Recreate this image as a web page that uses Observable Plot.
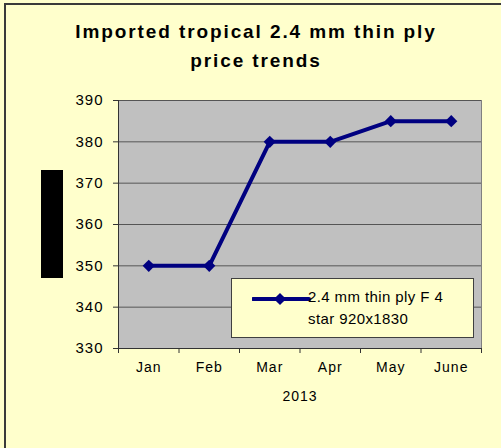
<!DOCTYPE html>
<html><head><meta charset="utf-8">
<script src="https://cdn.jsdelivr.net/npm/d3@7"></script>
<script src="https://cdn.jsdelivr.net/npm/@observablehq/plot@0.6"></script>
<style>
html,body{margin:0;padding:0;background:#FFFFCC;}
#wrap{position:relative;width:501px;height:448px;overflow:hidden;font-family:"Liberation Sans",Arial,sans-serif;}
#frame{position:absolute;left:4px;top:3px;width:600px;height:600px;border-left:2px solid #3a3a3a;border-top:2px solid #3a3a3a;}
#title{position:absolute;left:0;width:512px;top:17px;text-align:center;font-weight:bold;font-size:19px;line-height:29px;letter-spacing:1.9px;color:#000;}
#redact{position:absolute;left:41px;top:170px;width:22px;height:108px;background:#000;}
#chart{position:absolute;left:0;top:0;}
#legend{position:absolute;left:231px;top:278px;width:243px;height:60px;box-sizing:border-box;background:#FFFFCC;border:1px solid #404040;}
#legend svg{position:absolute;left:20px;top:13px;}
#legtext{position:absolute;left:76px;top:7px;width:158px;font-size:15px;line-height:22px;letter-spacing:0.4px;color:#000;}
</style></head>
<body>
<div id="wrap">
  <div id="frame"></div>
  <div id="chart"></div>
  <div id="title"></div>
  <div id="redact"></div>
  <div id="legend"><svg width="60" height="14"></svg><div id="legtext"></div></div>
</div>
<script>
const titleLines = ["Imported tropical 2.4 mm thin ply", "price trends"];
const months = ["Jan","Feb","Mar","Apr","May","June"];
const prices = [350,350,380,380,385,385];
const yTicks = [330,340,350,360,370,380,390];
const seriesName = "2.4 mm thin ply F 4 star 920x1830";
const xTitle = "2013";

const data = months.map((m,i)=>({i:i+0.5, month:m, price:prices[i]}));

document.getElementById("title").innerHTML = titleLines.join("<br>");
document.getElementById("legtext").textContent = seriesName;

const navy = "#000080";
const plot = Plot.plot({
  width:501, height:448,
  marginLeft:118, marginRight:20, marginTop:100, marginBottom:100,
  style:{background:"transparent", fontFamily:"Liberation Sans, Arial, sans-serif", color:"#000", letterSpacing:"1px"},
  x:{domain:[0,6]},
  y:{domain:[330,390]},
  marks:[
    Plot.frame({fill:"#c0c0c0", stroke:"#808080"}),
    Plot.gridY(yTicks.slice(1), {stroke:"#555", strokeOpacity:1}),
    Plot.ruleY([330], {stroke:"#333"}),
    Plot.ruleX([0], {stroke:"#333"}),
    Plot.axisY(yTicks, {tickSize:5, tickPadding:10, fontSize:15, stroke:"#333", label:null}),
    Plot.axisX(d3.range(0,7), {tickSize:5, tickFormat:()=>"", stroke:"#333", label:null}),
    Plot.axisX(data.map(d=>d.i), {tickSize:0, tickPadding:14, fontSize:14, tickFormat:v=>months[Math.floor(v)], label:null}),
    Plot.text([xTitle], {frameAnchor:"bottom", dy:52, fontSize:14}),
    Plot.line(data, {x:"i", y:"price", stroke:navy, strokeWidth:4}),
    Plot.dot(data, {x:"i", y:"price", symbol:"diamond2", r:5.5, fill:navy})
  ]
});
document.getElementById("chart").appendChild(plot);

const sw = d3.select("#legend svg");
sw.append("line").attr("x1",1).attr("x2",57).attr("y1",7).attr("y2",7).attr("stroke",navy).attr("stroke-width",4).attr("stroke-linecap","round");
sw.append("path").attr("transform","translate(28,7)").attr("d",d3.symbol(d3.symbolDiamond2, 95)()).attr("fill",navy);
</script>
</body></html>
